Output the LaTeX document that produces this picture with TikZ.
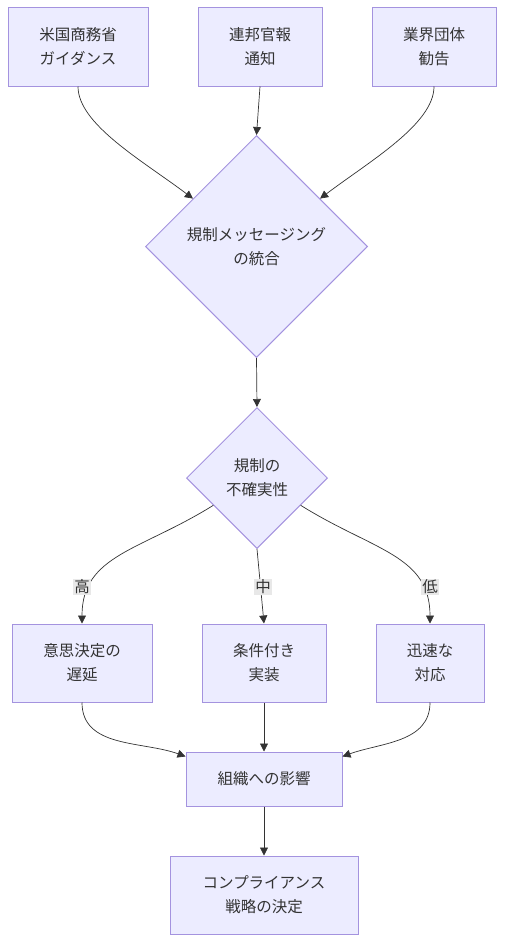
\documentclass[tikz,border=0pt]{standalone}
\usepackage{fontspec}
\newfontfamily\jpfont{Noto Sans CJK JP}
\usetikzlibrary{arrows.meta}
\usetikzlibrary{shapes.geometric}
\definecolor{boxfill}{HTML}{ECECFF}
\definecolor{boxline}{HTML}{A493DF}
\definecolor{ink}{HTML}{333333}
\definecolor{lblfill}{HTML}{E8E8E8}
\tikzset{
  box/.style={rectangle, draw=boxline, fill=boxfill, line width=1pt, minimum height=78pt, inner sep=0pt, align=center, text=ink, font=\jpfont\fontsize{15.5}{24}\selectfont},
  decision/.style={diamond, draw=boxline, fill=boxfill, line width=1pt, inner sep=0pt, align=center, text=ink, font=\jpfont\fontsize{15.5}{24}\selectfont},
  lbl/.style={fill=lblfill, inner sep=1pt, text=ink, font=\jpfont\fontsize{15.5}{20}\selectfont},
  edge/.style={draw=ink, line width=0.7pt, -{Triangle[length=8pt,width=8pt]}}
}

\begin{document}
\begin{tikzpicture}[x=1pt, y=1pt]
      \useasboundingbox (0,0) rectangle (504,-942);

      % sources
      \node[box, minimum width=140pt] (doc) at (78,-47) {米国商務省\\ガイダンス};
      \node[box, minimum width=124pt] (fr) at (260,-47) {連邦官報\\通知};
      \node[box, minimum width=124pt] (ind) at (434,-47) {業界団体\\勧告};

      \node[decision, minimum width=222pt, minimum height=222pt] (merge) at (256.5,-246.5) {規制メッセージング\\の統合};
      \node[decision, minimum width=141pt, minimum height=141pt] (unc) at (257,-478) {規制の\\不確実性};

      % responses
      \node[box, minimum width=140pt] (delay) at (82,-663) {意思決定の\\遅延};
      \node[box, minimum width=124pt] (cond) at (264,-663) {条件付き\\実装};
      \node[box, minimum width=108pt] (fast) at (430,-663) {迅速な\\対応};

      \node[box, minimum width=156pt, minimum height=54pt] (impact) at (264,-779) {組織への影響};
      \node[box, minimum width=188pt] (strat) at (264,-895) {コンプライアンス\\戦略の決定};

      \draw[edge] (doc.south) to[out=-90, in=143, out looseness=0.6] (merge.143);
      \draw[edge] (fr.south) -- (merge.north);
      \draw[edge] (ind.south) to[out=-90, in=37, out looseness=0.6] (merge.37);
      \draw[edge] (merge.south) -- (unc.north);

      \draw[edge] (unc.212) to[out=212, in=90, out looseness=1.25] (delay.north);
      \draw[edge] (unc.south) -- (cond.north);
      \draw[edge] (unc.-32) to[out=-32, in=90, out looseness=1.25] (fast.north);

      \draw[edge] (delay.south) to[out=-90, in=160] (impact.164);
      \draw[edge] (cond.south) -- (impact.north);
      \draw[edge] (fast.south) to[out=-90, in=20] (impact.16);
      \draw[edge] (impact.south) -- (strat.north);

      % edge labels
      \node[lbl] (high) at (82,-587) {高};
      \node[lbl] (mid) at (263,-587) {中};
      \node[lbl] (low) at (430,-587) {低};
    \end{tikzpicture}
\end{document}
